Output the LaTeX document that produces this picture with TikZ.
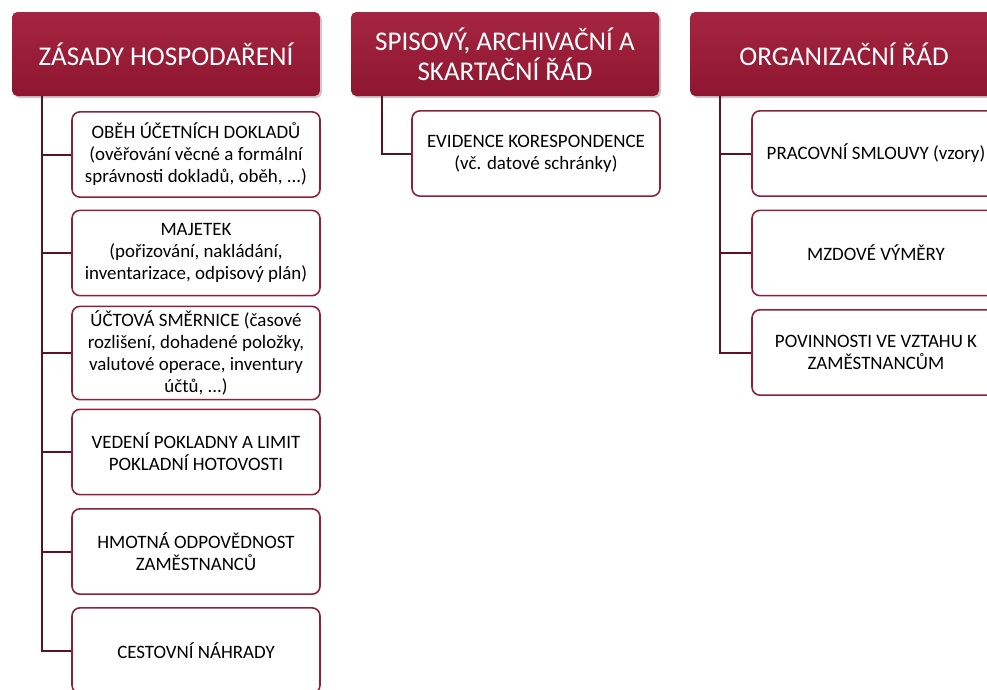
\documentclass[tikz,border=0pt]{standalone}
\usepackage{fontspec}
\setmainfont{Carlito}
\usetikzlibrary{shadows, calc}
\definecolor{headtop}{HTML}{A52540}
\definecolor{headbot}{HTML}{8E1630}
\definecolor{boxline}{HTML}{8A2238}
\definecolor{linkline}{HTML}{5A1322}

\begin{document}
\begin{tikzpicture}[x=0.75pt, y=-0.75pt,
    header/.style={rounded corners=4pt, top color=headtop, bottom color=headbot,
        text=white, align=center, minimum width=231pt, minimum height=63pt,
        font=\fontsize{20.3}{22.8}\selectfont,
        drop shadow={shadow xshift=1.5pt, shadow yshift=-1.5pt, opacity=0.35, fill=black!60}},
    item/.style={draw=boxline, line width=1.2pt, rounded corners=6pt, fill=white,
        align=center, minimum width=186pt, minimum height=64pt,
        font=\fontsize{14.2}{16.5}\selectfont},
    link/.style={draw=linkline, line width=1.5pt}]
    \useasboundingbox (0,0) rectangle (987,689);

    % Headers
    \node[header] (zasady) at (166,54) {ZÁSADY HOSPODAŘENÍ};
    \node[header] (spisovy) at (505,54) {SPISOVÝ, ARCHIVAČNÍ A\\SKARTAČNÍ ŘÁD};
    \node[header] (organizacni) at (844,54) {ORGANIZAČNÍ ŘÁD};

    % Zasady hospodareni
    \node[item] (obeh) at (196,154.5) {OBĚH ÚČETNÍCH DOKLADŮ\\(ověřování věcné a formální\\správnosti dokladů, oběh, ...)};
    \node[item] (majetek) at (196,253) {MAJETEK\\(pořizování, nakládání,\\inventarizace, odpisový plán)};
    \node[item] (smernice) at (196,353) {ÚČTOVÁ SMĚRNICE (časové\\rozlišení, dohadené položky,\\valutové operace, inventury\\účtů, ...)};
    \node[item] (pokladna) at (196,452) {VEDENÍ POKLADNY A LIMIT\\POKLADNÍ HOTOVOSTI};
    \node[item] (hmotna) at (196,551.5) {HMOTNÁ ODPOVĚDNOST\\ZAMĚSTNANCŮ};
    \node[item] (cestovni) at (196,650.5) {CESTOVNÍ NÁHRADY};

    % Spisovy rad
    \node[item] (evidence) at (536,153.5) {EVIDENCE KORESPONDENCE\\(vč. datové schránky)};

    % Organizacni rad
    \node[item] (smlouvy) at (876,153.5) {PRACOVNÍ SMLOUVY (vzory)};
    \node[item] (vymery) at (876,253) {MZDOVÉ VÝMĚRY};
    \node[item] (povinnosti) at (876,352.5) {POVINNOSTI VE VZTAHU K\\ZAMĚSTNANCŮM};

    % Connectors
    \foreach \b in {obeh, majetek, smernice, pokladna, hmotna, cestovni}
        \draw[link] ($(zasady.south west)+(30,0)$) |- (\b.west);
    \draw[link] ($(spisovy.south west)+(31,0)$) |- (evidence.west);
    \foreach \b in {smlouvy, vymery, povinnosti}
        \draw[link] ($(organizacni.south west)+(30,0)$) |- (\b.west);
\end{tikzpicture}
\end{document}
